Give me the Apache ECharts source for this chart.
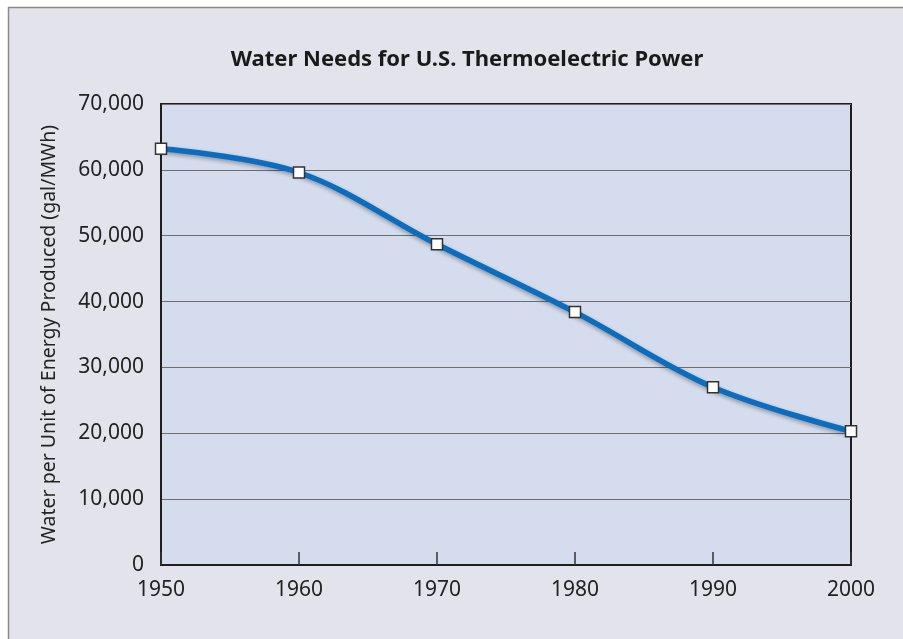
<!DOCTYPE html>
<html><head><meta charset="utf-8">
<script src="https://cdn.jsdelivr.net/npm/echarts@6/dist/echarts.min.js"></script>
<style>html,body{margin:0;padding:0;background:#fff}#c{width:903px;height:639px}</style>
</head><body><div id="c"></div>
<script>
var years = [1950, 1960, 1970, 1980, 1990, 2000];
var waterUse = [63200, 59600, 48700, 38400, 27000, 20300];
var yTicks = [0, 10000, 20000, 30000, 40000, 50000, 60000, 70000];
var titleText = 'Water Needs for U.S. Thermoelectric Power';
var yName = 'Water per Unit of Energy Produced (gal/MWh)';

var chart = echarts.init(document.getElementById('c'), null, {renderer: 'canvas'});
var font = '"Noto Sans", "DejaVu Sans", sans-serif';
chart.setOption({
  backgroundColor: '#ffffff',
  animation: false,
  graphic: [{
    type: 'rect', z: -10, silent: true,
    shape: {x: 8.5, y: 7.5, width: 910, height: 650},
    style: {fill: '#e2e3eb', stroke: '#8a8a8a', lineWidth: 1.5}
  }],
  title: {
    text: titleText, left: 462, top: 44, textAlign: 'center',
    textStyle: {fontFamily: font, fontSize: 22, fontWeight: 'bold', color: '#1a1a1a'}
  },
  grid: {
    left: 161, right: 52, top: 104, bottom: 74,
    show: true, backgroundColor: '#d4dcee', borderColor: '#1e1e1e', borderWidth: 2
  },
  xAxis: {
    type: 'value', min: years[0], max: years[years.length - 1], interval: 10,
    axisLine: {show: true, lineStyle: {color: '#1e1e1e', width: 2}},
    axisTick: {show: true, inside: true, length: 13, lineStyle: {color: '#333', width: 1.5}},
    splitLine: {show: false},
    axisLabel: {margin: 15, fontFamily: font, fontSize: 21, color: '#222', formatter: function (v) { return String(v); }}
  },
  yAxis: {
    type: 'value', min: yTicks[0], max: yTicks[yTicks.length - 1], interval: 10000,
    name: yName, nameLocation: 'middle', nameGap: 102, nameRotate: 90,
    nameTextStyle: {fontFamily: font, fontSize: 19.5, color: '#222'},
    axisLine: {show: true, lineStyle: {color: '#1e1e1e', width: 2}},
    axisTick: {show: false},
    splitLine: {show: true, lineStyle: {color: '#6e6e6e', width: 1}},
    axisLabel: {margin: 17, fontFamily: font, fontSize: 21, color: '#222',
      formatter: function (v) { return v.toLocaleString('en-US'); }}
  },
  series: [{
    type: 'line', smooth: 0.35,
    data: years.map(function (y, i) { return [y, waterUse[i]]; }),
    symbol: 'rect', symbolSize: 11,
    lineStyle: {color: '#0b6dbf', width: 5.5, shadowColor: 'rgba(0,0,0,0.35)', shadowBlur: 4, shadowOffsetY: 2},
    itemStyle: {color: '#ffffff', borderColor: '#333333', borderWidth: 1.5},
    z: 5
  }]
});
</script></body></html>
